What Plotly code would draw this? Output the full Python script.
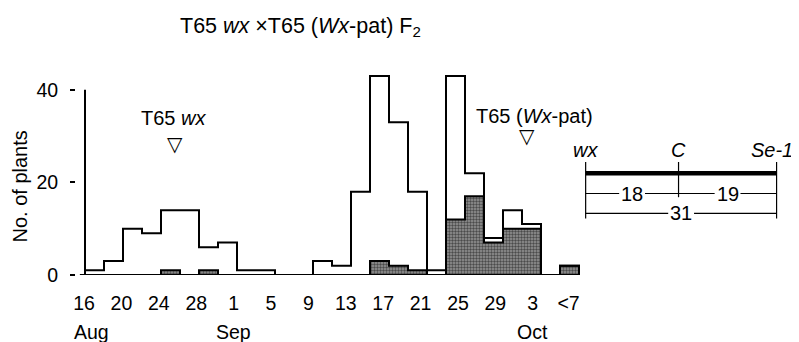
import plotly.graph_objects as go

# ---- data ----
# 2-day bins from mid-August to early October (F2 plants, heading date)
total_counts = [1, 3, 10, 9, 14, 14, 6, 7, 1, 1, 0, 0,
                3, 2, 18, 43, 33, 18, 1, 43, 22, 8, 14, 11]
shaded_counts = [0, 0, 0, 0, 1, 0, 1, 0, 0, 0, 0, 0,
                 0, 0, 0, 3, 2, 1, 0, 12, 17, 7, 10, 10]
late_total = 2      # "<7" class
late_shaded = 2
day_labels = ["16", "20", "24", "28", "1", "5", "9", "13", "17", "21", "25", "29", "3"]
late_label = "<7"
month_labels = ["Aug", "Sep", "Oct"]
month_at_label = [0, 4, 12]          # index of the day label under which the month sits
y_ticks = [0, 20, 40]
map_genes = ["wx", "C", "Se-1"]
map_pos = [0, 18, 37]                # cM
map_intervals = [("18", 0, 1), ("19", 1, 2)]
map_total = ("31", 0, 2)

FONT = "Liberation Sans, Arial, sans-serif"

# full series: dated bins, an empty gap bin, then the "<7" class
all_total = total_counts + [0] + [late_total]
all_shaded = shaded_counts + [0] + [late_shaded]
n = len(all_total)
centers = [i + 0.5 for i in range(n)]


def step(counts):
    xs = [0] + list(range(len(counts))) + [len(counts)]
    ys = [0] + list(counts) + [0]
    return xs, ys


fig = go.Figure()

fig.add_trace(go.Bar(
    x=centers, y=all_shaded, width=1,
    marker=dict(color="#808080", line=dict(width=0),
                pattern=dict(shape=".", fgcolor="black", bgcolor="#969696",
                             size=3, solidity=0.5)),
    showlegend=False, hoverinfo="skip"))

sx, sy = step(all_shaded)
fig.add_trace(go.Scatter(x=sx, y=sy, mode="lines", line_shape="hv",
                         line=dict(color="black", width=2),
                         showlegend=False, hoverinfo="skip"))
tx, ty = step(all_total)
fig.add_trace(go.Scatter(x=tx, y=ty, mode="lines", line_shape="hv",
                         line=dict(color="black", width=2),
                         showlegend=False, hoverinfo="skip"))

# tick positions (hand-drawn figure: labels spaced slightly less than 2 bins)
tickvals = [i * 1.968 - 0.05 for i in range(len(day_labels))] + [25.45]
ticktext = day_labels + [late_label]

shapes = []
annotations = []

# y axis line (only up to 40) and baseline
shapes.append(dict(type="line", xref="x", yref="y", x0=0, x1=0, y0=0, y1=40,
                   line=dict(color="black", width=2)))
shapes.append(dict(type="line", xref="x", yref="y", x0=-0.27, x1=n, y0=0, y1=0,
                   line=dict(color="black", width=2)))

# month labels
for m, k in zip(month_labels, month_at_label):
    xv = tickvals[k] + (0.4 if k == 0 else 0)
    annotations.append(dict(text=m, x=xv, y=-0.266, xref="x", yref="paper",
                            showarrow=False, font=dict(family=FONT, size=19.5, color="black"),
                            xanchor="center", yanchor="middle"))

# y title
annotations.append(dict(text="No. of plants", textangle=-90, x=-0.0775, y=19.1,
                        xref="paper", yref="y", showarrow=False,
                        font=dict(family=FONT, size=20, color="black"),
                        xanchor="center", yanchor="middle"))

# parent markers
annotations.append(dict(text="T65 <i>wx</i>", x=4.65, y=33.9, xref="x", yref="y",
                        showarrow=False, font=dict(family=FONT, size=20, color="black")))
annotations.append(dict(text="▽", x=4.76, y=28.3, xref="x", yref="y",
                        showarrow=False, font=dict(family="DejaVu Sans", size=20, color="black")))
annotations.append(dict(text="T65 (<i>Wx</i>-pat)", x=23.68, y=34.4, xref="x", yref="y",
                        showarrow=False, font=dict(family=FONT, size=20, color="black")))
annotations.append(dict(text="▽", x=23.26, y=30.0, xref="x", yref="y",
                        showarrow=False, font=dict(family="DejaVu Sans", size=20, color="black")))

# linkage map
def map_x(p):
    return 26.35 + p * 0.2716

chrom_y = 22.0
gene_y = 27.0
tick_top = 24.4
row1_y = 17.6
row2_y = 13.3
gap = 0.68

shapes.append(dict(type="line", xref="x", yref="y", x0=map_x(map_pos[0]), x1=map_x(map_pos[-1]),
                   y0=chrom_y, y1=chrom_y, line=dict(color="black", width=4.5)))
for i, (g, p) in enumerate(zip(map_genes, map_pos)):
    bottom = row2_y - 1.1 if i in (0, len(map_pos) - 1) else row1_y - 0.8
    shapes.append(dict(type="line", xref="x", yref="y", x0=map_x(p), x1=map_x(p),
                       y0=tick_top, y1=bottom, line=dict(color="black", width=1.2)))
    annotations.append(dict(text="<i>%s</i>" % g, x=map_x(p), y=gene_y, xref="x", yref="y",
                            showarrow=False, font=dict(family=FONT, size=20, color="black"),
                            xanchor="center", yanchor="middle",
                            xshift=-5 if i == len(map_pos) - 1 else 0))

# row 1: interval distances
mids = [(map_x(map_pos[a]) + map_x(map_pos[b])) / 2 for _, a, b in map_intervals]
pts = [map_x(map_pos[0])]
for mcent in mids:
    pts += [mcent - gap, mcent + gap]
pts.append(map_x(map_pos[-1]))
for j in range(0, len(pts), 2):
    shapes.append(dict(type="line", xref="x", yref="y", x0=pts[j], x1=pts[j + 1],
                       y0=row1_y, y1=row1_y, line=dict(color="black", width=1.2)))
for (lab, a, b), mcent in zip(map_intervals, mids):
    annotations.append(dict(text=lab, x=mcent, y=row1_y, xref="x", yref="y", showarrow=False,
                            font=dict(family=FONT, size=20, color="black"),
                            xanchor="center", yanchor="middle"))
# row 2: total distance
lab, a, b = map_total
m2 = (map_x(map_pos[a]) + map_x(map_pos[b])) / 2
for x0, x1 in [(map_x(map_pos[a]), m2 - gap), (m2 + gap, map_x(map_pos[b]))]:
    shapes.append(dict(type="line", xref="x", yref="y", x0=x0, x1=x1,
                       y0=row2_y, y1=row2_y, line=dict(color="black", width=1.2)))
annotations.append(dict(text=lab, x=m2, y=row2_y, xref="x", yref="y", showarrow=False,
                        font=dict(family=FONT, size=20, color="black"),
                        xanchor="center", yanchor="middle"))

# page has an 8px body margin: figure is sized/positioned to compensate
FIG_W, FIG_H, OFF = 791, 334, 8
ML = 68
x_lo = -(85 - OFF - ML) / 19
x_hi = x_lo + (FIG_W - ML) / 19

fig.update_layout(
    width=FIG_W, height=FIG_H,
    margin=dict(l=ML, r=0, t=54, b=67, autoexpand=False),
    paper_bgcolor="white", plot_bgcolor="white",
    showlegend=False, bargap=0,
    title=dict(text="T65 <i>wx</i> ×T65 (<i>Wx</i>-pat) F<sub>2</sub>",
               x=(180 - OFF) / FIG_W, xanchor="left", xref="container",
               y=1 - (25 - OFF) / FIG_H, yanchor="middle", yref="container",
               font=dict(family=FONT, size=21.5, color="black")),
    xaxis=dict(range=[x_lo, x_hi], tickvals=tickvals, ticktext=ticktext,
               ticks="", showline=False, showgrid=False, zeroline=False,
               ticklabelstandoff=14,
               tickfont=dict(family=FONT, size=19.5, color="black"), fixedrange=True),
    yaxis=dict(range=[0, 46], tickvals=y_ticks, ticks="outside", ticklen=5, tickwidth=2,
               tickcolor="black", showline=False, showgrid=False, zeroline=False,
               ticklabelstandoff=8,
               tickfont=dict(family=FONT, size=19.5, color="black"), fixedrange=True),
    shapes=shapes, annotations=annotations,
)

fig.write_html("out.html", config={"displayModeBar": False})
